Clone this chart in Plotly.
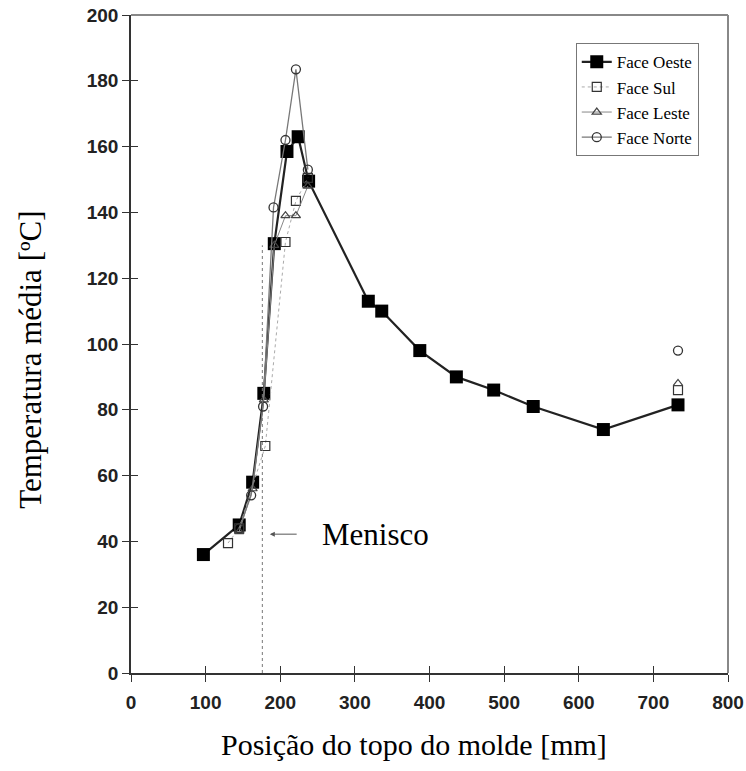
import plotly.graph_objects as go

# Thermocouple positions from the top of the mould [mm] and mean temperature [ºC]
oeste_x = [97, 145, 163, 178, 192, 209, 224, 238, 318, 336, 387, 436, 486, 539, 633, 733]
oeste_y = [36, 45, 58, 85, 130.5, 158.5, 163, 149.5, 113, 110, 98, 90, 86, 81, 74, 81.5]

sul_x = [130, 145, 180, 207, 221, 237, None, 733]
sul_y = [39.5, 44, 69, 131, 143.5, 150.5, None, 86]

leste_x = [145, 163, 178, 192, 207, 221, 237, None, 733]
leste_y = [43, 56, 83, 130, 139, 139, 148, None, 88]

norte_x = [145, 161, 177, 191, 207, 221, 237, None, 733]
norte_y = [44, 54, 81, 141.5, 162, 183.5, 153, None, 98]

menisco_x = 176
menisco_top = 130

x_ticks = [0, 100, 200, 300, 400, 500, 600, 700, 800]
y_ticks = [0, 20, 40, 60, 80, 100, 120, 140, 160, 180, 200]

SERIF = "Liberation Serif"
SANS = "Liberation Sans"

fig = go.Figure()

fig.add_trace(go.Scatter(
    x=oeste_x, y=oeste_y, name="Face Oeste", mode="lines+markers",
    line=dict(color="#222222", width=2.2),
    marker=dict(symbol="square", size=13, color="black"),
))
fig.add_trace(go.Scatter(
    x=sul_x, y=sul_y, name="Face Sul", mode="lines+markers",
    line=dict(color="#aaaaaa", width=1, dash="dot"),
    marker=dict(symbol="square-open", size=9, color="#333333", line=dict(width=1.2)),
))
fig.add_trace(go.Scatter(
    x=leste_x, y=leste_y, name="Face Leste", mode="lines+markers",
    line=dict(color="#888888", width=1),
    marker=dict(symbol="triangle-up-open", size=8, color="#444444", line=dict(width=1.2)),
))
fig.add_trace(go.Scatter(
    x=norte_x, y=norte_y, name="Face Norte", mode="lines+markers",
    line=dict(color="#777777", width=1.3),
    marker=dict(symbol="circle-open", size=9, color="#333333", line=dict(width=1.3)),
))

# Meniscus level
fig.add_shape(type="line", x0=menisco_x, x1=menisco_x, y0=0, y1=menisco_top,
              xref="x", yref="y", line=dict(color="#777777", width=1, dash="dot"))
fig.add_annotation(x=186, y=42.2, ax=224, ay=42.2, xref="x", yref="y",
                   axref="x", ayref="y", text="", showarrow=True,
                   arrowhead=2, arrowsize=1, arrowwidth=1, arrowcolor="#555555")
fig.add_annotation(x=253, y=42.2, xref="x", yref="y", text="Menisco",
                   showarrow=False, xanchor="left", yanchor="middle",
                   font=dict(family=SERIF, size=31, color="black"))

# Axis titles
fig.add_annotation(x=0.474, y=-0.109, xref="paper", yref="paper",
                   text="Posição do topo do molde [mm]", showarrow=False,
                   xanchor="center", yanchor="middle",
                   font=dict(family=SERIF, size=30, color="black"))
fig.add_annotation(x=-0.1675, y=0.476, xref="paper", yref="paper",
                   text="Temperatura média [ºC]", showarrow=False, textangle=-90,
                   xanchor="center", yanchor="middle",
                   font=dict(family=SERIF, size=31, color="black"))

axis_common = dict(
    showgrid=False, zeroline=False, showline=True, linecolor="#333333", linewidth=1.5,
    ticks="outside", ticklen=7, tickwidth=1.3, tickcolor="#333333",
    tickfont=dict(family=SANS, size=19, color="#222222", weight="bold"),
    mirror=False, automargin=False,
)

fig.update_layout(
    width=746, height=771,
    margin=dict(l=131, r=18, t=15, b=98),
    paper_bgcolor="white", plot_bgcolor="white",
    showlegend=True,
    legend=dict(
        x=0.745, y=0.957, xanchor="left", yanchor="top",
        bgcolor="white", bordercolor="#777777", borderwidth=1,
        font=dict(family=SERIF, size=17, color="black"),
        tracegroupgap=0, itemwidth=30,
    ),
    xaxis=dict(range=[0, 800], tickvals=x_ticks, ticklabelstandoff=4, **axis_common),
    yaxis=dict(range=[0, 200], tickvals=y_ticks, **axis_common),
    xaxis2=dict(range=[0, 800], tickvals=x_ticks, overlaying="x", side="bottom",
                showgrid=False, zeroline=False, showline=False, showticklabels=False,
                ticks="inside", ticklen=7, tickwidth=1.3, tickcolor="#333333",
                automargin=False),
    yaxis2=dict(range=[0, 200], tickvals=y_ticks, overlaying="y", side="left",
                showgrid=False, zeroline=False, showline=False, showticklabels=False,
                ticks="inside", ticklen=7, tickwidth=1.3, tickcolor="#333333",
                automargin=False),
)

# Grey frame on the top and right sides
fig.add_shape(type="line", xref="paper", yref="paper", x0=0, x1=1, y0=1, y1=1,
              line=dict(color="#888888", width=2))
fig.add_shape(type="line", xref="paper", yref="paper", x0=1, x1=1, y0=0, y1=1,
              line=dict(color="#888888", width=2))

# Invisible trace to carry the inside tick marks of the overlay axes
fig.add_trace(go.Scatter(x=[None], y=[None], xaxis="x2", yaxis="y2",
                         showlegend=False, hoverinfo="skip"))

fig.write_html("out.html")
